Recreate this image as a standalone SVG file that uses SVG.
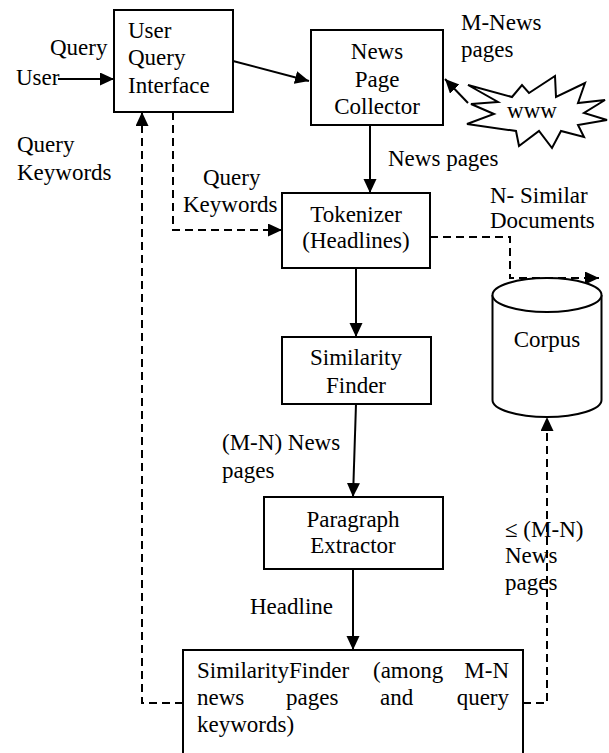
<svg xmlns="http://www.w3.org/2000/svg" width="609" height="753" viewBox="0 0 609 753">
<defs>
<marker id="ah" markerUnits="userSpaceOnUse" markerWidth="15" markerHeight="14" refX="14" refY="6.5" orient="auto">
<path d="M0,0 L14,6.5 L0,13 z" fill="#000"/>
</marker>
<style>
text{font-family:'Liberation Serif','Times New Roman',Tinos,'Nimbus Roman','Noto Serif','DejaVu Serif',FreeSerif,Times,serif;font-size:23px;fill:#000}
.c{text-anchor:middle}
.e{text-anchor:end}
.box{fill:#fff;stroke:#000;stroke-width:2}
.ln{fill:none;stroke:#000;stroke-width:2}
.ds{fill:none;stroke:#000;stroke-width:2;stroke-dasharray:8 5}
</style>
</defs>
<rect width="609" height="753" fill="#fff"/>
<g id="connectors">
<line class="ln" x1="58" y1="79" x2="114" y2="79" marker-end="url(#ah)"/>
<line class="ln" x1="233" y1="61" x2="309" y2="81" marker-end="url(#ah)"/>
<line class="ln" x1="468" y1="103" x2="445" y2="79" marker-end="url(#ah)"/>
<line class="ln" x1="370" y1="125" x2="370" y2="193" marker-end="url(#ah)"/>
<polyline class="ds" points="173,112 173,230 282,230" marker-end="url(#ah)"/>
<polyline class="ds" points="430,237 510,237 510,278 599,278" marker-end="url(#ah)"/>
<line class="ln" x1="356" y1="268" x2="356" y2="337" marker-end="url(#ah)"/>
<line class="ln" x1="356" y1="404" x2="353" y2="497" marker-end="url(#ah)"/>
<line class="ln" x1="353" y1="569" x2="353" y2="650" marker-end="url(#ah)"/>
<polyline class="ds" points="183,703 142,703 142,112" marker-end="url(#ah)"/>
<polyline class="ds" points="523,703 547,703 547,417" marker-end="url(#ah)"/>
</g>
<g id="user-query-interface">
<rect class="box" x="114" y="10" width="119" height="102"/>
<text x="128" y="38">User</text>
<text x="128" y="65">Query</text>
<text x="128" y="93">Interface</text>
</g>
<g id="news-page-collector">
<rect class="box" x="311" y="30" width="132" height="95"/>
<text class="c" x="377" y="59">News</text>
<text class="c" x="377" y="87">Page</text>
<text class="c" x="377" y="114">Collector</text>
</g>
<g id="www">
<polygon class="box" points="468,85 512,97 522,85 529,93 555,76 556,97 585,83 578,103 605,100 584,113 607,120 578,125 584,137 561,131 552,148 539,131 519,146 516,131 467,124 494,114 471,104 498,102"/>
<text class="c" x="532" y="118">www</text>
</g>
<g id="tokenizer">
<rect class="box" x="282" y="193" width="148" height="75"/>
<text class="c" x="356" y="222">Tokenizer</text>
<text class="c" x="356" y="248">(Headlines)</text>
</g>
<g id="corpus">
<path class="box" d="M492.5,295 L492.5,400 A54.5,17 0 0 0 601.5,400 L601.5,295"/>
<ellipse class="box" cx="547" cy="295" rx="54.5" ry="17"/>
<text class="c" x="547" y="347">Corpus</text>
</g>
<g id="similarity-finder">
<rect class="box" x="282" y="337" width="149" height="67"/>
<text class="c" x="356" y="365">Similarity</text>
<text class="c" x="356" y="393">Finder</text>
</g>
<g id="paragraph-extractor">
<rect class="box" x="264" y="497" width="179" height="72"/>
<text class="c" x="353" y="527">Paragraph</text>
<text class="c" x="353" y="553">Extractor</text>
</g>
<g id="similarity-finder-final">
<rect class="box" x="183" y="650" width="340" height="106"/>
<text x="197" y="678">SimilarityFinder</text>
<text x="373" y="678">(among</text>
<text class="e" x="509" y="678">M-N</text>
<text x="197" y="705">news</text>
<text x="286" y="705">pages</text>
<text x="380" y="705">and</text>
<text class="e" x="509" y="705">query</text>
<text x="197" y="732">keywords)</text>
</g>
<g id="labels">
<text x="50" y="55">Query</text>
<text x="16" y="85">User</text>
<text x="461" y="30">M-News</text>
<text x="461" y="57">pages</text>
<text x="17" y="152">Query</text>
<text x="17" y="180">Keywords</text>
<text x="388" y="166">News pages</text>
<text x="203" y="185">Query</text>
<text x="183" y="212">Keywords</text>
<text x="490" y="203">N- Similar</text>
<text x="490" y="228">Documents</text>
<text x="222" y="450">(M-N) News</text>
<text x="222" y="478">pages</text>
<text x="505" y="537">≤ (M-N)</text>
<text x="505" y="563">News</text>
<text x="505" y="590">pages</text>
<text x="250" y="614">Headline</text>
</g>
</svg>
